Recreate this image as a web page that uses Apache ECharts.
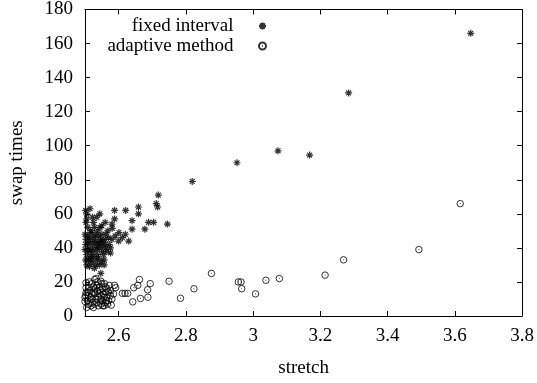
<!DOCTYPE html>
<html>
<head>
<meta charset="utf-8">
<script src="https://cdn.jsdelivr.net/npm/echarts@6/dist/echarts.min.js"></script>
<style>html,body{margin:0;padding:0;background:#fff}#c{width:537px;height:383px}</style>
</head>
<body>
<div id="c"></div>
<script>
// Data: [stretch, swap times]
const fixedInterval = [
  [3.647,166],[3.284,131],[3.168,94.5],[3.074,97],[2.952,90],[2.819,79],
  [2.718,71],[2.712,66],[2.716,64],[2.659,64],[2.659,60],[2.689,55],[2.704,55],[2.745,54],[2.678,51],
  [2.621,62],[2.588,62],[2.588,57],[2.640,56],[2.640,51],[2.581,51.5],[2.601,49],[2.611,46],
  [2.505,60],[2.505,57],[2.508,52],[2.518,49],
  [2.532,30],[2.557,30],[2.547,25],[2.576,40],[2.576,37],
  [2.503,45],[2.51,42],[2.52,40],[2.515,38],[2.505,36],[2.53,44],[2.54,47],[2.545,43],
  [2.525,35],[2.535,39],[2.55,41],[2.56,45],[2.565,38],[2.51,33],[2.52,31],[2.54,34],
  [2.555,36],[2.5,39],[2.505,30],[2.528,28],[2.548,32],[2.56,42],[2.53,48],[2.515,46],
  [2.57,46],[2.55,48],[2.568,50],[2.503,55],[2.525,55],[2.545,52],[2.56,55],[2.535,58],[2.5,48],
  [2.59,47],[2.6,44],[2.62,48],[2.63,44],
  [2.502,42],[2.507,47],[2.512,44],[2.517,35],[2.522,43],[2.527,46],[2.532,41],[2.537,36],
  [2.542,40],[2.547,45],[2.552,38],[2.557,33],[2.562,40],[2.508,39],[2.513,29],[2.518,33],
  [2.523,38],[2.533,33],[2.538,43],[2.543,30],[2.553,44],[2.502,33],[2.517,50],[2.528,52],
  [2.538,50],[2.55,53],[2.562,48],[2.572,42],[2.58,45],[2.502,62],[2.515,63],[2.522,58],
  [2.544,60],[2.58,54]
];
const adaptiveMethod = [
  [3.616,66],[3.493,39],[3.269,33],[3.214,24],[3.078,22],[3.038,21],[3.007,13],[2.966,16],
  [2.956,20],[2.964,20],[2.876,25],[2.824,16],[2.784,10.4],[2.75,20.4],
  [2.662,21.4],[2.657,18],[2.645,16.6],[2.694,19],[2.686,15.4],[2.687,11],[2.665,10.3],[2.642,8.3],
  [2.611,13.3],[2.619,13.3],[2.627,13.3],[2.588,18],[2.591,16.6],[2.576,15],[2.578,6.4],[2.557,6],
  [2.503,19.5],[2.503,16.6],[2.503,13.7],[2.5,10.8],[2.5,8.5],[2.529,21.4],[2.547,20.4],
  [2.51,12],[2.515,15],[2.52,10],[2.525,17],[2.53,13],[2.535,8],[2.54,11],[2.545,15],[2.55,9],
  [2.555,13],[2.56,17],[2.565,11],[2.57,14],[2.52,19],[2.535,18],[2.55,19],[2.56,8],[2.512,7],
  [2.54,6],[2.525,5],[2.548,7],[2.565,16],[2.57,9],[2.53,16],[2.52,13],
  [2.502,12],[2.507,9],[2.512,17],[2.517,11],[2.522,8],[2.527,14],[2.532,10],[2.537,15],
  [2.542,13],[2.547,10],[2.552,16],[2.557,11],[2.562,14],[2.567,7],[2.572,18],[2.508,14],
  [2.513,20],[2.518,6],[2.528,7],[2.538,20],[2.543,17],[2.548,12],[2.553,6],[2.558,19],
  [2.563,9],[2.575,12],[2.58,10],[2.585,13],[2.505,5],[2.533,22]
];
const xTicks = [2.6, 2.8, 3, 3.2, 3.4, 3.6, 3.8];
const xRange = [2.5, 3.8];
const yRange = [0, 180];
const yStep = 20;
const seriesNames = ['fixed interval', 'adaptive method'];
const axisNames = ['stretch', 'swap times'];

const FONT = 'Liberation Serif';
const asterisk = 'path://M0,5L10,5M5,0L5,10M1.5,1.5L8.5,8.5M8.5,1.5L1.5,8.5';
const ringDot = 'path://M10,5A5,5,0,1,1,0,5A5,5,0,1,1,10,5ZM4.4,5L5.6,5';
const lineStyle = { color: '#000', width: 1 };

const chart = echarts.init(document.getElementById('c'), null, { renderer: 'canvas' });
chart.setOption({
  animation: false,
  backgroundColor: '#fff',
  textStyle: { fontFamily: FONT, color: '#000' },
  grid: { left: 81, right: 14, top: 9, bottom: 61, containLabel: false },
  legend: {
    orient: 'vertical', align: 'right', right: 270, top: 16, padding: 0,
    itemWidth: 48, itemHeight: 7, itemGap: 0,
    textStyle: { fontFamily: FONT, fontSize: 19, color: '#000', lineHeight: 20 },
    data: seriesNames
  },
  xAxis: [{
    type: 'value', min: xRange[0], max: xRange[1],
    name: axisNames[0], nameLocation: 'middle', nameGap: 43,
    nameTextStyle: { fontFamily: FONT, fontSize: 19, color: '#000' },
    axisLine: { show: true, onZero: false, lineStyle },
    axisTick: { show: true, inside: true, length: 5, lineStyle, customValues: xTicks },
    axisLabel: { fontFamily: FONT, fontSize: 19, color: '#000', margin: 11, customValues: xTicks },
    splitLine: { show: false }
  }, {
    type: 'value', position: 'top', min: xRange[0], max: xRange[1],
    axisLine: { show: true, onZero: false, lineStyle },
    axisTick: { show: true, inside: true, length: 5, lineStyle, customValues: xTicks },
    axisLabel: { show: false }, splitLine: { show: false }
  }],
  yAxis: [{
    type: 'value', min: yRange[0], max: yRange[1], interval: yStep,
    name: axisNames[1], nameLocation: 'middle', nameGap: 58, nameRotate: 90,
    nameTextStyle: { fontFamily: FONT, fontSize: 19, color: '#000' },
    axisLine: { show: true, onZero: false, lineStyle },
    axisTick: { show: true, inside: true, length: 5, lineStyle },
    axisLabel: { fontFamily: FONT, fontSize: 19, color: '#000', margin: 12 },
    splitLine: { show: false }
  }, {
    type: 'value', position: 'right', min: yRange[0], max: yRange[1], interval: yStep,
    axisLine: { show: true, onZero: false, lineStyle },
    axisTick: { show: true, inside: true, length: 5, lineStyle },
    axisLabel: { show: false }, splitLine: { show: false }
  }],
  series: [{
    name: seriesNames[0], type: 'scatter', data: fixedInterval,
    symbol: asterisk, symbolSize: 7,
    itemStyle: { color: 'rgba(0,0,0,0)', borderColor: '#000', borderWidth: 1.2 }
  }, {
    name: seriesNames[1], type: 'scatter', data: adaptiveMethod,
    symbol: ringDot, symbolSize: 6.5,
    itemStyle: { color: 'rgba(0,0,0,0)', borderColor: '#000', borderWidth: 1 }
  }]
});
</script>
</body>
</html>
